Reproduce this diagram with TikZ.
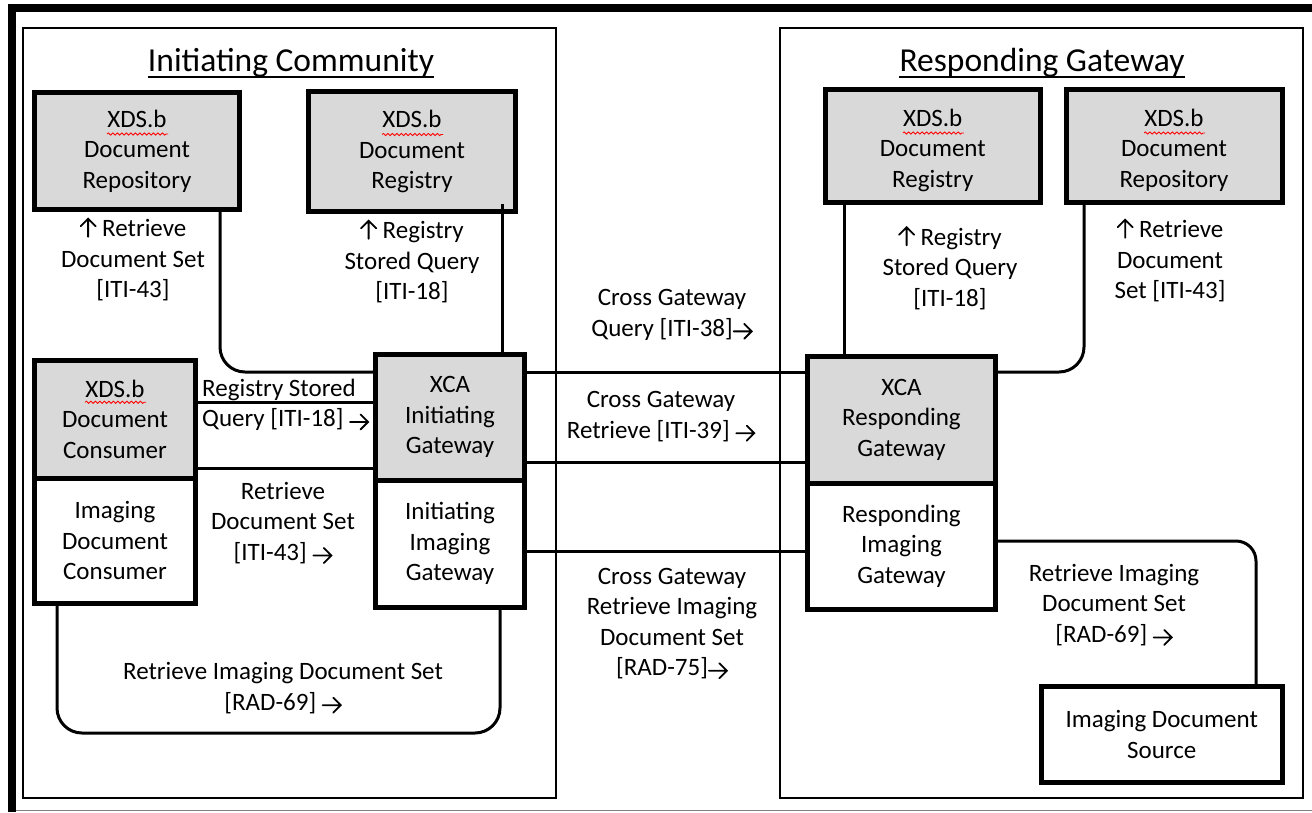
\documentclass[tikz,border=0pt]{standalone}
\usepackage{fontspec}
\setmainfont{Carlito}
\newcommand{\rarr}{\tikz[baseline={(0pt,-5pt)}]{\draw[line width=1.8pt, line cap=round, line join=miter] (0pt,0pt) -- (18pt,0pt) (10.5pt,7.5pt) -- (18pt,0pt) -- (10.5pt,-7.5pt);}}
\newcommand{\uarr}{\tikz[baseline={(0pt,0pt)}]{\draw[line width=1.8pt, line cap=round, line join=miter] (0pt,0pt) -- (0pt,18pt) (-7.5pt,10.5pt) -- (0pt,18pt) -- (7.5pt,10.5pt);}}
\usetikzlibrary{decorations.pathmorphing,calc}
\definecolor{boxgray}{RGB}{217,217,217}
\tikzset{
  lbl/.style={align=center, font=\fontsize{25}{30.5}\selectfont, inner sep=0pt},
  actor/.style={draw, line width=5pt, inner sep=0pt, align=center, fill=white,
    font=\fontsize{25}{30.5}\selectfont},
  grayactor/.style={actor, fill=boxgray},
  conn/.style={line width=3pt},
  comm/.style={draw, line width=2pt, inner sep=0pt},
  ttl/.style={font=\fontsize{33.5}{40}\selectfont, inner sep=0pt, anchor=base},
  squig/.style={red, line width=0.8pt, decorate,
    decoration={snake, amplitude=1.1pt, segment length=4.5pt}},
}
\begin{document}
\begin{tikzpicture}[x=1pt,y=-1pt]
\useasboundingbox (0,0) rectangle (1312,812);
% outer frame
\fill (8,4) rectangle (1312,12);
\fill (8,4) rectangle (16,812);
\draw[gray, line width=1pt] (16,810) -- (1312,810);
% communities
\node[comm, minimum width=533pt, minimum height=770pt] (icomm) at (289.5,413) {};
\node[comm, minimum width=523pt, minimum height=770pt] (rcomm) at (1041.5,413) {};
\node[ttl] (t1) at (291,71.5) {Initiating Community};
\node[ttl] (t2) at (1042,71.5) {Responding Gateway};
\draw[line width=2pt] ([yshift=-5pt]t1.base west) -- ([yshift=-5pt]t1.base east);
\draw[line width=2pt] ([yshift=-5pt]t2.base west) -- ([yshift=-5pt]t2.base east);
% actors left
\node[grayactor, minimum width=205pt, minimum height=117pt] (repoL) at (137,151) {XDS.b\\Document\\Repository};
\node[grayactor, minimum width=207pt, minimum height=120pt] (regL) at (412,151.5) {XDS.b\\Document\\Registry};
\node[grayactor, minimum width=161pt, minimum height=117.5pt] (cons) at (115,419.25) {XDS.b\\Document\\Consumer};
\node[actor, minimum width=161pt, minimum height=125.5pt] (imgC) at (115,540.75) {Imaging\\Document\\Consumer};
\node[grayactor, minimum width=149pt, minimum height=125.5pt] (xcaI) at (450,417.25) {XCA\\Initiating\\Gateway};
\node[actor, minimum width=149pt, minimum height=127.5pt] (imgI) at (450,543.75) {Initiating\\Imaging\\Gateway};
% actors right
\node[grayactor, minimum width=215.5pt, minimum height=113pt,
  label={[lbl, yshift=-4pt]center:{XDS.b\\Document\\Registry}}] (regR) at (932.75,146) {};
\node[grayactor, minimum width=216pt, minimum height=113pt,
  label={[lbl, yshift=-4pt]center:{XDS.b\\Document\\Repository}}] (repoR) at (1174,146) {};
\node[grayactor, minimum width=188pt, minimum height=126.5pt] (xcaR) at (901.5,419.75) {XCA\\Responding\\Gateway};
\node[actor, minimum width=188pt, minimum height=126.5pt] (imgR) at (901.5,546.25) {Responding\\Imaging\\Gateway};
\node[actor, minimum width=240.5pt, minimum height=96pt] (src) at (1161.75,734.5) {Imaging Document\\Source};
% spell-check squiggles
\foreach \n in {repoL,regL,cons}
  \draw[squig] ($(\n.center)+(-30,-17)$) -- ($(\n.center)+(31,-17)$);
\foreach \n in {regR,repoR}
  \draw[squig] ($(\n.center)+(-30,-13)$) -- ($(\n.center)+(31,-13)$);
% connector coordinates
\coordinate (xA) at (220,0);
\coordinate (yA) at (0,372);
\coordinate (xB) at (502,204);
\coordinate (yC) at (0,402);
\coordinate (yD) at (0,468);
\coordinate (yE) at (0,733);
\coordinate (xE1) at (57,0);
\coordinate (xE2) at (500,0);
\coordinate (yG) at (0,462);
\coordinate (yH) at (0,551);
\coordinate (xI) at (844.5,0);
\coordinate (xJ) at (1084,0);
\coordinate (yK) at (0,541);
\coordinate (xK) at (1256,0);
% connectors left
\draw[conn, rounded corners=25pt] (repoL.south -| xA) |- (xcaI.west |- yA);
\draw[conn] (xB) -- (xB |- xcaI.north);
\draw[conn] (cons.east |- yC) -- (xcaI.west |- yC);
\draw[conn] (cons.east |- yD) -- (xcaI.west |- yD);
\draw[conn, rounded corners=25pt] (imgC.south -| xE1) -- (xE1 |- yE) -- (xE2 |- yE) -- (imgI.south -| xE2);
% cross gateway
\draw[conn] (xcaI.east |- yA) -- (xcaR.west |- yA);
\draw[conn] (xcaI.east |- yG) -- (xcaR.west |- yG);
\draw[conn] (imgI.east |- yH) -- (imgR.west |- yH);
% connectors right
\draw[conn] (regR.south -| xI) -- (xcaR.north -| xI);
\draw[conn, rounded corners=25pt] (repoR.south -| xJ) |- (xcaR.east |- yA);
\draw[conn, rounded corners=20pt] (imgR.east |- yK) -| (src.north -| xK);
% labels
\node[lbl] (l1) at (133,259.5) {\uarr\ Retrieve\\Document Set\\{}[ITI-43]};
\node[lbl] (l2) at (412,261.5) {\uarr\ Registry\\Stored Query\\{}[ITI-18]};
\node[lbl, align=left, anchor=west] (l3) at (202,405) {Registry Stored\\Query [ITI-18] \rarr};
\node[lbl] (l4) at (283,523) {Retrieve\\Document Set\\{}[ITI-43] \rarr};
\node[lbl] (l5) at (283,688) {Retrieve Imaging Document Set\\{}[RAD-69] \rarr};
\node[lbl] (l6) at (672,315) {Cross Gateway\\Query [ITI-38]\rarr};
\node[lbl] (l7) at (661,416.5) {Cross Gateway\\Retrieve [ITI-39] \rarr};
\node[lbl] (l8) at (672,623.5) {Cross Gateway\\Retrieve Imaging\\Document Set\\{}[RAD-75]\rarr};
\node[lbl] (l9) at (950,268) {\uarr\ Registry\\Stored Query\\{}[ITI-18]};
\node[lbl] (l10) at (1170,260.5) {\uarr\ Retrieve\\Document\\Set [ITI-43]};
\node[lbl] (l11) at (1114,605) {Retrieve Imaging\\Document Set\\{}[RAD-69] \rarr};
\end{tikzpicture}
\end{document}
